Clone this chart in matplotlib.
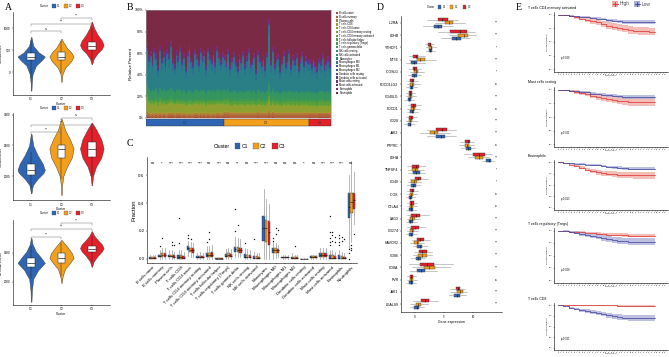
import numpy as np
import matplotlib.pyplot as plt
from matplotlib.patches import Rectangle

plt.rcParams['font.family'] = ['Liberation Sans', 'DejaVu Sans']
plt.rcParams['axes.linewidth'] = 0.4
plt.rcParams['xtick.major.width'] = 0.3
plt.rcParams['ytick.major.width'] = 0.3
plt.rcParams['xtick.major.size'] = 1
plt.rcParams['ytick.major.size'] = 1
plt.rcParams['xtick.major.pad'] = 0.8
plt.rcParams['ytick.major.pad'] = 0.8

clusters = ['C1', 'C2', 'C3']
clus_cols = ['#2F66B3', '#F29F1C', '#E5202A']

# ---------------- A: ESTIMATE violins ----------------
est_names = ['StromalScore', 'ImmuneScore', 'ESTIMATEScore']
# violin outlines: score levels and relative density (C1, C2, C3)
stromal_y = [[-420, -250, -50, 150, 280, 356, 450, 600, 800],
             [-220, -50, 100, 250, 356, 450, 550, 700, 760],
             [180, 300, 420, 530, 620, 720, 850, 1000, 1150]]
stromal_d = [[0.02, 0.04, 0.1, 0.35, 0.8, 1.0, 0.55, 0.15, 0.02],
             [0.02, 0.08, 0.3, 0.8, 1.0, 0.8, 0.45, 0.12, 0.02],
             [0.02, 0.15, 0.45, 0.85, 1.0, 0.85, 0.5, 0.2, 0.02]]
# q1, median, q3, lower whisker, upper whisker
stromal_box = [[267, 356, 444, -130, 700], [270, 356, 460, -20, 700], [511, 600, 689, 280, 1000]]
stromal_sig = ['ns', '***', '***']

immune_y = [[1720, 1850, 1950, 2050, 2100, 2200, 2350, 2500, 2690],
            [1690, 1850, 2000, 2150, 2300, 2450, 2600, 2750, 2935],
            [1850, 2000, 2150, 2300, 2450, 2600, 2750, 2870]]
immune_d = [[0.02, 0.12, 0.45, 0.9, 1.0, 0.85, 0.45, 0.15, 0.02],
            [0.02, 0.05, 0.15, 0.45, 0.85, 1.0, 0.7, 0.3, 0.02],
            [0.02, 0.1, 0.35, 0.8, 1.0, 0.8, 0.4, 0.03]]
immune_box = [[2015, 2100, 2190, 1800, 2400], [2290, 2450, 2500, 1950, 2800], [2320, 2450, 2550, 2000, 2850]]
immune_sig = ['***', '***', 'ns']

estimate_y = [[1310, 1700, 2100, 2400, 2655, 2850, 3050, 3300, 3517],
              [1965, 2200, 2450, 2650, 2830, 3000, 3200, 3350, 3450],
              [2520, 2700, 2900, 3050, 3170, 3300, 3450, 3600, 3750]]
estimate_d = [[0.02, 0.05, 0.15, 0.5, 1.0, 0.7, 0.35, 0.1, 0.02],
              [0.02, 0.1, 0.3, 0.7, 1.0, 0.85, 0.5, 0.2, 0.02],
              [0.02, 0.15, 0.5, 0.85, 1.0, 0.85, 0.5, 0.2, 0.02]]
estimate_box = [[2520, 2660, 2830, 2150, 3200], [2655, 2830, 3000, 2200, 3350], [3030, 3140, 3240, 2700, 3600]]
estimate_sig = ['***', '***', '***']

# ---------------- B / C: CIBERSORT fractions ----------------
cell_types = ['B cells naive', 'B cells memory', 'Plasma cells', 'T cells CD8', 'T cells CD4 naive',
              'T cells CD4 memory resting', 'T cells CD4 memory activated', 'T cells follicular helper',
              'T cells regulatory (Tregs)', 'T cells gamma delta', 'NK cells resting', 'NK cells activated',
              'Monocytes', 'Macrophages M0', 'Macrophages M1', 'Macrophages M2', 'Dendritic cells resting',
              'Dendritic cells activated', 'Mast cells resting', 'Mast cells activated', 'Eosinophils',
              'Neutrophils']
cell_cols = ['#A5473A', '#B0603A', '#B07A3A', '#A89A30', '#8FA030', '#6FA535', '#5AA03A', '#4A9E45',
             '#3E9A50', '#36955E', '#2F8F6C', '#2B8878', '#2A7F86', '#2D7090', '#355F96', '#3E4E97',
             '#4A4094', '#5A358C', '#6D2F83', '#7E2C79', '#8E2D6A', '#7A2A44']

c1_q1 = [0.000, 0.010, 0.010, 0.000, 0.060, 0.005, 0.010, 0.000, 0.010, 0.050, 0.005, 0.000, 0.130, 0.040, 0.005, 0.000, 0.000, 0.005, 0.010, 0.000, 0.000, 0.290]
c1_med = [0.005, 0.020, 0.020, 0.010, 0.080, 0.010, 0.025, 0.000, 0.020, 0.070, 0.015, 0.005, 0.220, 0.060, 0.010, 0.005, 0.000, 0.010, 0.025, 0.005, 0.005, 0.370]
c1_q3 = [0.015, 0.030, 0.030, 0.025, 0.090, 0.020, 0.045, 0.003, 0.035, 0.085, 0.035, 0.020, 0.310, 0.075, 0.015, 0.015, 0.002, 0.020, 0.040, 0.025, 0.025, 0.470]
c1_lo = [0, 0, 0, 0, 0.02, 0, 0, 0, 0, 0.01, 0, 0, 0.0, 0.0, 0, 0, 0, 0, 0, 0, 0, 0.08]
c1_hi = [0.03, 0.06, 0.06, 0.06, 0.13, 0.04, 0.09, 0.008, 0.07, 0.16, 0.08, 0.05, 0.50, 0.12, 0.03, 0.04, 0.005, 0.03, 0.08, 0.06, 0.06, 0.60]
c2_q1 = [0.000, 0.015, 0.010, 0.000, 0.050, 0.005, 0.015, 0.000, 0.015, 0.050, 0.005, 0.000, 0.120, 0.045, 0.005, 0.000, 0.000, 0.005, 0.012, 0.000, 0.000, 0.330]
c2_med = [0.005, 0.030, 0.020, 0.010, 0.065, 0.012, 0.030, 0.000, 0.025, 0.065, 0.015, 0.005, 0.220, 0.060, 0.010, 0.005, 0.000, 0.010, 0.025, 0.005, 0.005, 0.410]
c2_q3 = [0.015, 0.040, 0.030, 0.025, 0.080, 0.022, 0.045, 0.003, 0.040, 0.085, 0.030, 0.018, 0.280, 0.075, 0.015, 0.012, 0.002, 0.018, 0.040, 0.025, 0.020, 0.470]
c2_lo = [0, 0, 0, 0, 0.015, 0, 0, 0, 0, 0.01, 0, 0, 0.0, 0.005, 0, 0, 0, 0, 0, 0, 0, 0.12]
c2_hi = [0.03, 0.08, 0.06, 0.06, 0.12, 0.05, 0.09, 0.008, 0.08, 0.15, 0.07, 0.045, 0.43, 0.11, 0.03, 0.03, 0.005, 0.03, 0.08, 0.06, 0.05, 0.70]
c3_q1 = [0.000, 0.015, 0.008, 0.000, 0.040, 0.005, 0.010, 0.000, 0.010, 0.045, 0.005, 0.000, 0.100, 0.045, 0.005, 0.000, 0.000, 0.005, 0.010, 0.000, 0.000, 0.360]
c3_med = [0.005, 0.030, 0.015, 0.008, 0.060, 0.010, 0.030, 0.000, 0.020, 0.065, 0.012, 0.005, 0.190, 0.060, 0.010, 0.005, 0.000, 0.010, 0.025, 0.005, 0.005, 0.420]
c3_q3 = [0.012, 0.045, 0.025, 0.020, 0.075, 0.020, 0.050, 0.003, 0.035, 0.080, 0.030, 0.015, 0.270, 0.070, 0.015, 0.010, 0.002, 0.018, 0.040, 0.020, 0.015, 0.470]
c3_lo = [0, 0, 0, 0, 0.01, 0, 0, 0, 0, 0.01, 0, 0, 0.0, 0.01, 0, 0, 0, 0, 0, 0, 0, 0.25]
c3_hi = [0.025, 0.08, 0.05, 0.05, 0.11, 0.04, 0.10, 0.008, 0.07, 0.14, 0.06, 0.04, 0.39, 0.10, 0.03, 0.025, 0.005, 0.03, 0.08, 0.05, 0.04, 0.62]
c1_fliers = {1: [0.09], 3: [0.29, 0.11], 4: [0.17, 0.15], 6: [0.12], 9: [0.36, 0.2], 10: [0.11], 11: [0.14],
             13: [0.13, 0.15], 19: [0.31, 0.19, 0.15, 0.12, 0.1], 20: [0.17, 0.15, 0.12, 0.1], 21: [0.07, 0.04, 0.0]}
c2_fliers = {1: [0.15], 2: [0.12, 0.1], 4: [0.14], 6: [0.19, 0.14], 9: [0.24], 13: [0.22, 0.18], 15: [0.09],
             19: [0.19, 0.17, 0.13], 20: [0.16, 0.13], 21: [0.1, 0.08, 0.06, 0.75]}
c3_fliers = {2: [0.1], 13: [0.21], 19: [0.16, 0.12], 20: [0.14], 21: [0.18]}
cell_sig = ['ns', '*', '***', '***', '***', '***', 'ns', '***', 'ns', '**', 'ns', '***', '***', 'ns', 'ns', 'ns',
            '*', 'ns', '***', '***', '***', 'ns']

# per-sample neutrophil and monocyte fractions (panel B), grouped by cluster
neut_c1 = [0.30, 0.42, 0.38, 0.47, 0.35, 0.40, 0.52, 0.33, 0.44, 0.39, 0.48, 0.36, 0.41, 0.29, 0.45, 0.50, 0.37,
           0.43, 0.34, 0.46, 0.40, 0.53, 0.38, 0.32, 0.44, 0.49, 0.36, 0.41, 0.47, 0.35, 0.43, 0.38, 0.51, 0.34,
           0.42, 0.45, 0.37, 0.48, 0.33, 0.40, 0.46, 0.39]
neut_c2 = [0.42, 0.48, 0.36, 0.51, 0.44, 0.39, 0.47, 0.53, 0.41, 0.45, 0.38, 0.50, 0.43, 0.35, 0.49, 0.46, 0.40,
           0.55, 0.37, 0.44, 0.48, 0.42, 0.52, 0.39, 0.08, 0.47, 0.34, 0.50, 0.43, 0.41, 0.54, 0.46, 0.38, 0.49,
           0.44, 0.36, 0.51, 0.42, 0.47, 0.40, 0.53, 0.45, 0.39, 0.48, 0.43, 0.46]
neut_c3 = [0.45, 0.50, 0.42, 0.48, 0.53, 0.44, 0.47, 0.40, 0.51, 0.46, 0.43, 0.49]
mono_c1 = [0.22, 0.18, 0.25, 0.15, 0.28, 0.20, 0.14, 0.26, 0.19, 0.23, 0.16, 0.27, 0.21, 0.30, 0.17, 0.15, 0.24,
           0.19, 0.28, 0.18, 0.22, 0.13, 0.25, 0.29, 0.20, 0.16, 0.26, 0.21, 0.17, 0.27, 0.20, 0.24, 0.15, 0.28,
           0.21, 0.18, 0.25, 0.16, 0.29, 0.22, 0.18, 0.23]
mono_c2 = [0.20, 0.16, 0.25, 0.14, 0.21, 0.24, 0.17, 0.13, 0.22, 0.19, 0.26, 0.15, 0.20, 0.28, 0.16, 0.18, 0.23,
           0.12, 0.25, 0.20, 0.17, 0.22, 0.14, 0.24, 0.45, 0.18, 0.27, 0.15, 0.21, 0.23, 0.13, 0.19, 0.25, 0.16,
           0.20, 0.27, 0.14, 0.22, 0.18, 0.24, 0.13, 0.20, 0.25, 0.17, 0.21, 0.19]
mono_c3 = [0.18, 0.15, 0.21, 0.17, 0.13, 0.19, 0.16, 0.23, 0.14, 0.18, 0.20, 0.16]

# ---------------- D: checkpoint gene expression ----------------
genes = ['IL2RA', 'LDHB', 'YTHDF1', 'NT5E', 'ICOSLG', 'PDCD1LG2', 'CD40LG', 'PDCD1', 'CD28', 'JAK2', 'PTPRC',
         'LDHA', 'TNFSF4', 'CD40', 'ICOS', 'CTLA4', 'LAG3', 'CD274', 'HAVCR2', 'CD86', 'CD8A', 'PVR', 'JAK1',
         'LGALS9']
gene_sig = ['***', '***', '*', '***', '*', 'ns', '***', 'ns', '***', '***', 'ns', '***', '*', '*', 'ns', 'ns',
            '***', '***', '***', '***', '***', 'ns', '***', '***']
# per gene: q1, median, q3, lower whisker, upper whisker
gx_c1 = [(3.3, 4.0, 4.7, 1.4, 6.6), (6.3, 7.1, 8.0, 4.5, 9.5), (2.4, 2.6, 2.9, 1.9, 3.4), (-0.7, -0.1, 0.4, -1.5, 1.8),
         (-0.5, -0.1, 0.3, -1.2, 1.0), (-0.9, -0.6, -0.3, -1.5, 0.4), (-1.2, -1.0, -0.7, -1.8, -0.2),
         (-0.8, -0.5, -0.2, -1.4, 0.5), (-1.2, -0.9, -0.6, -1.8, 0.0), (3.7, 4.5, 5.1, 2.0, 7.0),
         (8.8, 9.2, 9.6, 8.0, 10.3), (12.3, 12.7, 13.1, 11.6, 13.7), (-0.3, 0.2, 0.8, -1.2, 1.8),
         (-0.7, -0.3, 0.1, -1.3, 0.8), (-1.0, -0.8, -0.5, -1.5, 0.0), (-1.0, -0.7, -0.4, -1.5, 0.1),
         (-1.1, -0.8, -0.4, -1.6, 0.3), (-1.0, -0.6, -0.3, -1.5, 0.4), (0.4, 0.8, 1.2, -0.3, 2.0),
         (0.1, 0.5, 1.0, -0.6, 1.8), (0.3, 1.0, 1.7, -0.8, 3.8), (-1.0, -0.7, -0.4, -1.5, 0.2),
         (6.7, 7.2, 7.7, 5.8, 8.8), (-0.1, 0.3, 0.7, -0.9, 1.6)]
gx_c2 = [(5.1, 5.8, 6.5, 3.4, 8.6), (7.4, 8.5, 9.1, 5.8, 10.6), (2.4, 2.7, 2.9, 1.9, 3.6), (0.3, 0.9, 1.7, -1.0, 3.6),
         (-0.2, 0.2, 0.6, -0.9, 1.6), (-0.8, -0.5, -0.1, -1.4, 0.8), (-1.0, -0.8, -0.5, -1.6, 0.2),
         (-0.7, -0.4, 0.0, -1.3, 0.8), (-1.0, -0.8, -0.5, -1.6, 0.3), (2.6, 3.3, 4.0, 0.8, 6.0),
         (8.6, 9.0, 9.4, 7.6, 10.2), (10.4, 11.1, 11.7, 9.2, 12.8), (-0.5, 0.0, 0.5, -1.2, 1.5),
         (-0.6, -0.2, 0.3, -1.2, 1.0), (-0.9, -0.6, -0.3, -1.4, 0.3), (-0.9, -0.6, -0.3, -1.4, 0.3),
         (-0.9, -0.5, 0.0, -1.4, 0.9), (-0.8, -0.5, -0.2, -1.4, 0.6), (-0.1, 0.3, 0.7, -0.8, 1.6),
         (0.6, 1.2, 2.0, -0.4, 3.0), (1.5, 2.5, 3.4, -0.5, 6.0), (-0.9, -0.6, -0.3, -1.4, 0.3),
         (7.3, 7.7, 8.2, 6.2, 9.0), (0.1, 0.6, 1.1, -0.8, 2.2)]
gx_c3 = [(4.0, 4.7, 5.7, 2.0, 7.4), (6.1, 7.7, 8.9, 4.0, 10.3), (2.3, 2.6, 2.8, 1.8, 3.3), (-0.3, 0.2, 0.6, -1.0, 1.8),
         (-0.4, -0.1, 0.3, -1.0, 1.0), (-0.8, -0.5, -0.2, -1.4, 0.5), (-1.1, -0.8, -0.5, -1.6, 0.0),
         (-0.7, -0.3, 0.1, -1.2, 1.0), (-1.0, -0.7, -0.4, -1.5, 0.4), (3.7, 4.6, 5.5, 2.0, 7.0),
         (8.7, 9.1, 9.5, 7.8, 10.2), (10.0, 11.0, 12.0, 8.5, 13.3), (-0.5, 0.1, 0.7, -1.3, 1.8),
         (0.0, 0.5, 1.1, -0.8, 2.2), (-0.8, -0.5, -0.2, -1.3, 0.5), (-0.9, -0.6, -0.2, -1.4, 0.4),
         (-0.6, 0.2, 0.9, -1.4, 2.5), (-0.6, 0.0, 0.7, -1.3, 1.8), (0.4, 0.9, 1.5, -0.5, 2.6),
         (0.7, 1.3, 2.0, -0.2, 3.0), (0.9, 2.0, 3.3, -1.0, 6.5), (-0.9, -0.6, -0.3, -1.4, 0.2),
         (7.0, 7.4, 7.8, 6.0, 8.6), (1.0, 1.7, 2.5, -0.3, 4.0)]

# ---------------- E: Kaplan-Meier ----------------
km_titles = ['T cells CD4 memory activated', 'Mast cells resting', 'Eosinophils',
             'T cells regulatory (Tregs)', 'T cells CD8']
km_pvals = ['p=0.029', 'p=0.021', 'p=0.013', 'p=0.008', 'p<0.001']
km_time = [0, 2, 4, 6, 8, 10, 12, 14, 16, 18, 20, 22, 24, 26, 28, 30, 32, 34, 36]
km_high = [[1, 0.99, 0.97, 0.95, 0.93, 0.91, 0.88, 0.86, 0.83, 0.80, 0.78, 0.76, 0.74, 0.72, 0.71, 0.70, 0.70, 0.69, 0.69],
           [1, 0.99, 0.97, 0.96, 0.94, 0.92, 0.89, 0.87, 0.85, 0.83, 0.81, 0.80, 0.79, 0.78, 0.77, 0.77, 0.77, 0.77, 0.77],
           [1, 0.98, 0.95, 0.92, 0.88, 0.84, 0.80, 0.78, 0.76, 0.75, 0.74, 0.73, 0.72, 0.72, 0.71, 0.71, 0.71, 0.71, 0.71],
           [1, 0.99, 0.98, 0.98, 0.97, 0.96, 0.95, 0.94, 0.93, 0.92, 0.92, 0.91, 0.91, 0.90, 0.90, 0.90, 0.90, 0.90, 0.90],
           [1, 1, 1, 1, 1, 1, 1, 1, 1, 1, 1, 0.99, 0.99, 0.98, 0.98, 0.98, 0.98, 0.98, 0.98]]
km_low = [[1, 0.99, 0.98, 0.97, 0.96, 0.95, 0.94, 0.93, 0.92, 0.90, 0.89, 0.88, 0.87, 0.87, 0.86, 0.86, 0.86, 0.86, 0.86],
          [1, 0.99, 0.98, 0.97, 0.96, 0.95, 0.93, 0.92, 0.91, 0.90, 0.89, 0.88, 0.87, 0.87, 0.86, 0.86, 0.86, 0.86, 0.86],
          [1, 0.99, 0.98, 0.97, 0.96, 0.95, 0.94, 0.93, 0.92, 0.90, 0.89, 0.88, 0.87, 0.86, 0.86, 0.86, 0.86, 0.86, 0.86],
          [1, 0.99, 0.97, 0.95, 0.93, 0.91, 0.89, 0.87, 0.85, 0.83, 0.81, 0.80, 0.79, 0.78, 0.77, 0.77, 0.77, 0.77, 0.77],
          [1, 0.97, 0.94, 0.91, 0.88, 0.86, 0.84, 0.82, 0.79, 0.76, 0.74, 0.72, 0.71, 0.70, 0.69, 0.69, 0.69, 0.69, 0.69]]
ci_wide = [0, 0.01, 0.02, 0.03, 0.035, 0.04, 0.045, 0.05, 0.055, 0.06, 0.06, 0.065, 0.065, 0.07, 0.07, 0.07, 0.07, 0.07, 0.07]
ci_narrow = [0, 0.005, 0.01, 0.012, 0.015, 0.018, 0.02, 0.022, 0.025, 0.028, 0.03, 0.03, 0.032, 0.034, 0.035, 0.035, 0.035, 0.035, 0.035]
km_high_ci = [ci_wide, ci_wide, ci_wide, ci_narrow, ci_narrow]
km_low_ci = [ci_narrow, ci_narrow, ci_narrow, ci_wide, ci_wide]

W, H = 669, 357
fig = plt.figure(figsize=(W / 100, H / 100), dpi=100)


def px_axes(l, t, r, b):
    return fig.add_axes([l / W, 1 - b / H, (r - l) / W, (b - t) / H])


def fig_xy(x, y):
    return x / W, 1 - y / H


def cluster_key(x, y, fs, sq, xs):
    # ggplot style "Cluster [] C1 [] C2 [] C3"
    fig.text(*fig_xy(x, y), 'Cluster', fontsize=fs, va='center', ha='left')
    for xi, name, c in zip(xs, clusters, clus_cols):
        fig.patches.append(Rectangle(fig_xy(xi, y + sq / 2), sq / W, sq / H, transform=fig.transFigure,
                                     facecolor=c, edgecolor='#444', lw=0.2))
        fig.text(*fig_xy(xi + sq + 1.2, y), name, fontsize=fs, va='center', ha='left')


def clean(ax):
    ax.spines['top'].set_visible(False)
    ax.spines['right'].set_visible(False)


# ---------------- A ----------------
def violin_panel(rect, ys, ds, box, sig, brackets, ylim, yticks, ylabel):
    ax = px_axes(*rect)
    stats = [dict(coords=np.array(ys[i], float), vals=np.array(ds[i], float), mean=box[i][1],
                  median=box[i][1], min=ys[i][0], max=ys[i][-1]) for i in range(3)]
    parts = ax.violin(stats, positions=[1, 2, 3], widths=[0.9, 0.8, 0.78], showextrema=False)
    for pc, c in zip(parts['bodies'], clus_cols):
        pc.set_facecolor(c)
        pc.set_edgecolor('#333333')
        pc.set_linewidth(0.3)
        pc.set_alpha(1)
    bstats = [dict(q1=b[0], med=b[1], q3=b[2], whislo=b[3], whishi=b[4], fliers=[]) for b in box]
    ax.bxp(bstats, positions=[1, 2, 3], widths=0.25, patch_artist=True, showcaps=False,
           boxprops=dict(facecolor='white', edgecolor='#222222', lw=0.35),
           medianprops=dict(color='#222222', lw=0.5), whiskerprops=dict(color='#222222', lw=0.35))
    d = (ylim[1] - ylim[0]) * 0.025
    for (i, j, yb), lab in zip(brackets, sig):
        ax.plot([i, i, j, j], [yb - d, yb, yb, yb - d], color='#777777', lw=0.35)
        ax.text((i + j) / 2, yb + d * 0.2, lab, ha='center', va='bottom', fontsize=1.8)
    ax.set_xlim(0.4, 3.6)
    ax.set_ylim(*ylim)
    ax.set_yticks(yticks)
    ax.set_xticks([1, 2, 3], clusters)
    ax.tick_params(labelsize=2.2)
    ax.set_xlabel('Cluster', fontsize=2.3, labelpad=0.6)
    ax.set_ylabel(ylabel, fontsize=2.3, labelpad=1)
    clean(ax)


violin_panel((13, 12, 110, 95), stromal_y, stromal_d, stromal_box, stromal_sig,
             [(1, 2, 930), (1, 3, 1090), (2, 3, 1240)], (-520, 1370), [0, 500, 1000], est_names[0])
violin_panel((13, 113, 110, 200), immune_y, immune_d, immune_box, immune_sig,
             [(1, 2, 2726), (1, 3, 2839), (2, 3, 2952)], (1610, 3030), [2000, 2500, 3000], est_names[1])
violin_panel((13, 220, 110, 305), estimate_y, estimate_d, estimate_box, estimate_sig,
             [(1, 2, 3560), (1, 3, 3820), (2, 3, 4030)], (1200, 4140), [2000, 3000], est_names[2])
for yk in (6, 108, 213):
    cluster_key(40, yk, 2.0, 3.6, [52, 64, 76])

# ---------------- B ----------------
neut_all = neut_c1 + neut_c2 + neut_c3
mono_all = mono_c1 + mono_c2 + mono_c3
clus_of = [0] * len(neut_c1) + [1] * len(neut_c2) + [2] * len(neut_c3)
meds = [c1_med, c2_med, c3_med]
frac = np.zeros((len(cell_types), len(neut_all)))
for k in range(len(neut_all)):
    prof = np.array(meds[clus_of[k]], float)
    prof[12] = 0
    prof[21] = 0
    rest = 1 - neut_all[k] - mono_all[k]
    col = prof / prof.sum() * rest
    col[12] = mono_all[k]
    col[21] = neut_all[k]
    frac[:, k] = col

axB = px_axes(146, 10, 331, 118)
xs = np.arange(len(neut_all))
bottom = np.zeros(len(neut_all))
for i in range(len(cell_types)):
    axB.bar(xs, frac[i], bottom=bottom, width=1.0, color=cell_cols[i], linewidth=0)
    bottom += frac[i]
axB.set_xlim(-0.5, len(neut_all) - 0.5)
axB.set_ylim(0, 1)
axB.set_xticks([])
axB.set_yticks([0, 0.2, 0.4, 0.6, 0.8, 1.0], ['0%', '20%', '40%', '60%', '80%', '100%'])
axB.tick_params(labelsize=2.4)
axB.set_ylabel('Relative Percent', fontsize=3.2, labelpad=1.5)
for s in axB.spines.values():
    s.set_color('#999999')

axBc = px_axes(146, 119.5, 331, 125.5)
start = 0
for ci, n in enumerate([len(neut_c1), len(neut_c2), len(neut_c3)]):
    axBc.broken_barh([(start - 0.5, n)], (0, 1), facecolor=clus_cols[ci], edgecolor='#333333', lw=0.3)
    axBc.text(start - 0.5 + n / 2, 0.5, clusters[ci], ha='center', va='center', fontsize=2.4, color='#333333')
    start += n
axBc.set_xlim(-0.5, len(neut_all) - 0.5)
axBc.set_ylim(0, 1)
axBc.axis('off')

for k, (name, c) in enumerate(zip(cell_types, cell_cols)):
    yk = 13 + k * 3.8
    fig.patches.append(Rectangle(fig_xy(335.5, yk + 1.2), 2.4 / W, 2.4 / H, transform=fig.transFigure,
                                 facecolor=c, edgecolor='none'))
    fig.text(*fig_xy(339.5, yk), name, fontsize=1.9, va='center', ha='left')

# ---------------- C ----------------
axC = px_axes(147, 157, 357, 263)
c_q1 = [c1_q1, c2_q1, c3_q1]
c_med = [c1_med, c2_med, c3_med]
c_q3 = [c1_q3, c2_q3, c3_q3]
c_lo = [c1_lo, c2_lo, c3_lo]
c_hi = [c1_hi, c2_hi, c3_hi]
c_fl = [c1_fliers, c2_fliers, c3_fliers]
pos = np.arange(len(cell_types))
for ci in range(3):
    stats = [dict(q1=c_q1[ci][k], med=c_med[ci][k], q3=c_q3[ci][k], whislo=c_lo[ci][k], whishi=c_hi[ci][k],
                  fliers=c_fl[ci].get(k, [])) for k in range(len(cell_types))]
    axC.bxp(stats, positions=pos + (ci - 1) * 0.27, widths=0.25, patch_artist=True, showcaps=False,
            boxprops=dict(facecolor=clus_cols[ci], edgecolor='#333333', lw=0.3),
            medianprops=dict(color='#111111', lw=0.45), whiskerprops=dict(color='#999999', lw=0.5),
            flierprops=dict(marker='o', markersize=1.0, markerfacecolor='#111111', markeredgecolor='none'))
for k, lab in enumerate(cell_sig):
    axC.text(k, 0.685, lab, ha='center', va='center', fontsize=3.0)
axC.set_xlim(-0.6, len(cell_types) - 0.4)
axC.set_ylim(-0.03, 0.73)
axC.set_yticks([0, 0.2, 0.4, 0.6], ['0.0', '0.2', '0.4', '0.6'])
axC.set_xticks(pos, cell_types, rotation=45, ha='right', rotation_mode='anchor')
axC.tick_params(axis='x', labelsize=3.1)
axC.tick_params(axis='y', labelsize=3.2)
axC.set_ylabel('Fraction', fontsize=4.2, labelpad=1.5)
clean(axC)
cluster_key(214, 146, 3.6, 5.5, [235, 253, 272])

# ---------------- D ----------------
axD = px_axes(401, 16, 502, 312)
gpos = np.arange(len(genes))
for ci, gx, off in zip(range(3), [gx_c1, gx_c2, gx_c3], [0.27, 0.0, -0.27]):
    stats = [dict(q1=g[0], med=g[1], q3=g[2], whislo=g[3], whishi=g[4], fliers=[]) for g in gx]
    axD.bxp(stats, positions=gpos + off, widths=0.25, orientation='horizontal', patch_artist=True,
            showcaps=False, boxprops=dict(facecolor=clus_cols[ci], edgecolor='#333333', lw=0.3),
            medianprops=dict(color='#111111', lw=0.4), whiskerprops=dict(color='#999999', lw=0.4))
for k, lab in enumerate(gene_sig):
    axD.text(14.0, k, lab, ha='center', va='center', fontsize=1.9)
axD.set_ylim(len(genes) - 0.35, -0.57)
axD.set_xlim(-2.4, 15)
axD.set_yticks(gpos, genes)
axD.set_xticks([0, 5, 10])
axD.tick_params(axis='y', labelsize=2.5)
axD.tick_params(axis='x', labelsize=2.2)
axD.set_xlabel('Gene expression', fontsize=2.5, labelpad=0.8)
clean(axD)
cluster_key(427, 7, 1.9, 3.4, [438, 450, 463])

# ---------------- E ----------------
km_rects = [(554, 12, 668, 72), (554, 87, 668, 147), (554, 160, 668, 210), (554, 228, 668, 283),
            (554, 303, 668, 350)]
high_col, high_band = '#DD2B2B', '#F0A9A0'
low_col, low_band = '#3B3E98', '#A9ABD8'
for p, rect in enumerate(km_rects):
    ax = px_axes(*rect)
    hi_s, lo_s = np.array(km_high[p]), np.array(km_low[p])
    hci, lci = np.array(km_high_ci[p]), np.array(km_low_ci[p])
    ax.fill_between(km_time, np.clip(hi_s - hci, 0, 1), np.clip(hi_s + hci, 0, 1), step='post',
                    color=high_band, alpha=0.75, lw=0)
    ax.fill_between(km_time, np.clip(lo_s - lci, 0, 1), np.clip(lo_s + lci, 0, 1), step='post',
                    color=low_band, alpha=0.75, lw=0)
    ax.step(km_time, hi_s, where='post', color=high_col, lw=0.5)
    ax.step(km_time, lo_s, where='post', color=low_col, lw=0.5)
    ax.text(1, 0.2, km_pvals[p], fontsize=1.8, va='center')
    ax.set_xlim(-1.5, 41)
    ax.set_ylim(-0.05, 1.05)
    ax.set_xticks(range(0, 41))
    ax.set_yticks([0, 0.25, 0.5, 0.75, 1.0], ['0.00', '0.25', '0.50', '0.75', '1.00'])
    ax.tick_params(labelsize=1.3, length=0.6, pad=0.5)
    ax.set_xlabel('Time(years)', fontsize=1.5, labelpad=0.3)
    ax.set_ylabel('Survival probability', fontsize=1.5, labelpad=0.5)
    clean(ax)
    fig.text(*fig_xy(528, rect[1] - 4.5), km_titles[p], fontsize=2.6, va='center', ha='left')

for xk, lab, lc, bc in [(612, 'High', high_col, high_band), (634, 'Low', low_col, low_band)]:
    fig.patches.append(Rectangle(fig_xy(xk, 7), 6 / W, 6 / H, transform=fig.transFigure,
                                 facecolor=bc, edgecolor='none'))
    fig.lines.append(plt.Line2D([(xk + 0.5) / W, (xk + 5.5) / W], [1 - 4 / H, 1 - 4 / H],
                                transform=fig.transFigure, color=lc, lw=0.6))
    fig.lines.append(plt.Line2D([(xk + 3) / W, (xk + 3) / W], [1 - 2 / H, 1 - 6 / H],
                                transform=fig.transFigure, color=lc, lw=0.6))
    fig.text(*fig_xy(xk + 8, 4), lab, fontsize=3.4, va='center', ha='left', color='#444444')

# panel letters
for lab, x, y in [('A', 5, 7), ('B', 127, 7), ('C', 127, 143), ('D', 377, 7), ('E', 516, 7)]:
    fig.text(*fig_xy(x, y), lab, fontsize=7, family='Liberation Serif', va='center', ha='left')

fig.savefig('out.png', dpi=100)
